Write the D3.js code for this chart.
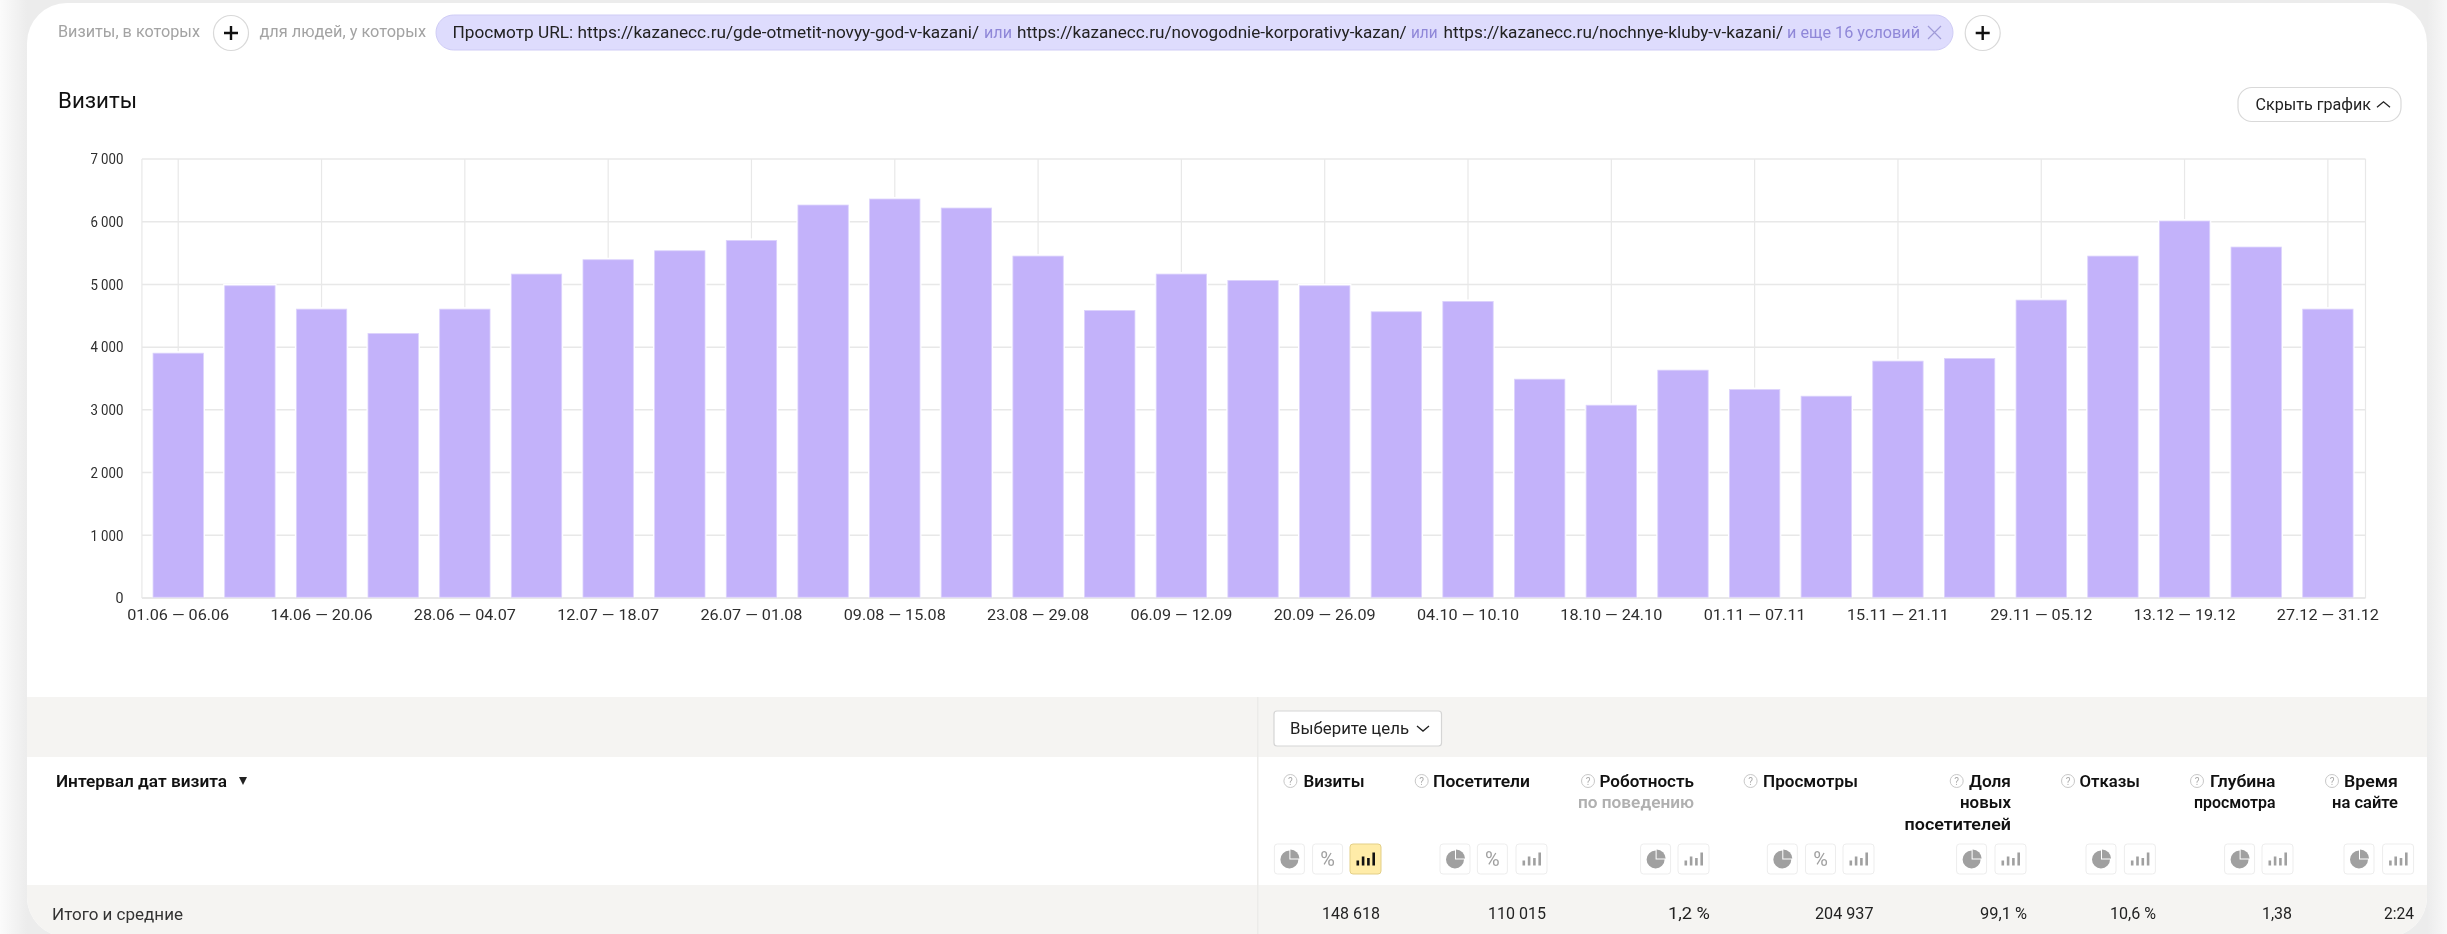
<!DOCTYPE html>
<html lang="ru"><head><meta charset="utf-8">
<script src="https://cdn.jsdelivr.net/npm/d3@7/dist/d3.min.js"></script>
<style>
html,body{margin:0;padding:0;background:#fff;overflow:hidden}
svg{display:block;font-family:Roboto,"Noto Sans",sans-serif;filter:blur(.35px)}
</style></head><body><div id="chart"></div>
<script>
// ---------- data ----------
const categories = ["01.06 — 06.06","07.06 — 13.06","14.06 — 20.06","21.06 — 27.06","28.06 — 04.07","05.07 — 11.07","12.07 — 18.07","19.07 — 25.07","26.07 — 01.08","02.08 — 08.08","09.08 — 15.08","16.08 — 22.08","23.08 — 29.08","30.08 — 05.09","06.09 — 12.09","13.09 — 19.09","20.09 — 26.09","27.09 — 03.10","04.10 — 10.10","11.10 — 17.10","18.10 — 24.10","25.10 — 31.10","01.11 — 07.11","08.11 — 14.11","15.11 — 21.11","22.11 — 28.11","29.11 — 05.12","06.12 — 12.12","13.12 — 19.12","20.12 — 26.12","27.12 — 31.12"];
const visits = [3904,4979,4606,4218,4606,5165,5394,5537,5702,6266,6362,6218,5452,4585,5165,5064,4979,4564,4729,3489,3074,3633,3324,3218,3777,3819,4750,5452,6011,5596,4606];
const yTicks = [0,1000,2000,3000,4000,5000,6000,7000];
const xTicks = categories.filter((d,i)=>i%2===0);
const metricTitles = [["Визиты"],["Посетители"],["Роботность"],["Просмотры"],["Доля","новых","посетителей"],["Отказы"],["Глубина","просмотра"],["Время","на сайте"]];
const totals = ["148 618","110 015","1,2 %","204 937","99,1 %","10,6 %","1,38","2:24"];

// ---------- layout ----------
const W=2447,H=934;
const plot={l:142.4,r:2363.7,t:159,b:598,gridR:2365.5};
const svg=d3.select("#chart").append("svg").attr("width",W).attr("height",H);
const defs=svg.append("defs");
const g0=defs.append("linearGradient").attr("id","side").attr("gradientUnits","userSpaceOnUse").attr("x1",0).attr("x2",W).attr("y1",0).attr("y2",0);
[[0,"#fbfbfb"],[27/W,"#ececec"],[2427/W,"#ececec"],[1,"#f8f8f8"]].forEach(([o,c])=>g0.append("stop").attr("offset",o).attr("stop-color",c));
defs.append("clipPath").attr("id","card").append("rect").attr("x",27).attr("y",3).attr("width",2400).attr("height",934).attr("rx",40);
svg.append("rect").attr("width",W).attr("height",H).attr("fill","url(#side)");
const card=svg.append("g").attr("clip-path","url(#card)");
card.append("rect").attr("x",27).attr("y",3).attr("width",2400).attr("height",934).attr("fill","#fff");
card.append("rect").attr("x",27).attr("y",697).attr("width",2400).attr("height",60).attr("fill","#f5f4f2");
card.append("rect").attr("x",27).attr("y",885).attr("width",2400).attr("height",52).attr("fill","#f5f4f2");
card.append("rect").attr("x",1257).attr("y",697).attr("width",1.5).attr("height",237).attr("fill","#ecebe9");

// text fitted between two x positions
function fit(text,x1,x2,y,o={}){
  return svg.append("text").attr("x",x1).attr("y",y).attr("dy","0.35em")
    .attr("font-size",o.size||16.5).attr("font-weight",o.weight||400).attr("fill",o.fill||"#222")
    .attr("textLength",x2-x1).attr("lengthAdjust","spacingAndGlyphs").text(text);
}
function plusBtn(cx,cy){
  svg.append("circle").attr("cx",cx).attr("cy",cy).attr("r",17.5).attr("fill","#fff").attr("stroke","#d9d9d9").attr("stroke-width",1.2);
  svg.append("path").attr("d",`M${cx-7} ${cy}H${cx+7}M${cx} ${cy-7}V${cy+7}`).attr("stroke","#111").attr("stroke-width",2.4);
}
function chevron(x1,x2,cy,up){
  const h=(x2-x1)/2*.85,s=up?1:-1;
  svg.append("path").attr("d",`M${x1} ${cy+s*h/2}L${(x1+x2)/2} ${cy-s*h/2}L${x2} ${cy+s*h/2}`).attr("fill","none").attr("stroke","#222").attr("stroke-width",1.3);
}

// ---------- top filter row ----------
fit("Визиты, в которых",58,200,31.5,{fill:"#a3a3a3"});
plusBtn(231,33);
fit("для людей, у которых",259.5,426,31.5,{fill:"#a3a3a3"});
svg.append("rect").attr("x",436).attr("y",15).attr("width",1517).attr("height",35).attr("rx",17.5).attr("fill","#dedcfd").attr("stroke","#cfccf5");
const viol="#8f87d8";
fit("Просмотр URL: https://kazanecc.ru/gde-otmetit-novyy-god-v-kazani/",452.5,979,32);
fit("или",984,1012,32,{fill:viol});
fit("https://kazanecc.ru/novogodnie-korporativy-kazan/",1017,1406.7,32);
fit("или",1411,1437.6,32,{fill:viol});
fit("https://kazanecc.ru/nochnye-kluby-v-kazani/",1443.6,1783,32);
fit("и еще 16 условий",1787,1920,32,{fill:viol});
svg.append("path").attr("d","M1928 26L1941 39M1941 26L1928 39").attr("stroke","#a09bd8").attr("stroke-width",1.2);
plusBtn(1982.7,33);

// ---------- chart head ----------
fit("Визиты",58,137,100,{size:22,fill:"#111"});
svg.append("rect").attr("x",2238).attr("y",87.5).attr("width",163).attr("height",34).attr("rx",14).attr("fill","#fff").attr("stroke","#d9d9d9").attr("stroke-width",1.2);
fit("Скрыть график",2255.5,2371,104.5,{size:16});
chevron(2377,2390,104.5,true);

// ---------- chart ----------
const x=d3.scaleBand().domain(categories).range([plot.l,plot.r]).paddingInner(.297).paddingOuter(.1485);
const y=d3.scaleLinear().domain([0,7000]).range([plot.b,plot.t]);
const ruFmt=d3.formatLocale({decimal:",",thousands:" ",grouping:[3],currency:["","₽"]}).format(",d");
const chart=svg.append("g");
const gridCol="#e8e8e8";
chart.selectAll("line.h").data(yTicks).join("line").attr("class","h")
  .attr("x1",plot.l-.5).attr("x2",plot.gridR).attr("y1",d=>y(d)).attr("y2",d=>y(d))
  .attr("stroke",d=>d===0?"#e0e0e0":gridCol).attr("stroke-width",1.5);
chart.selectAll("line.v").data(xTicks).join("line").attr("class","v")
  .attr("x1",d=>x(d)+x.bandwidth()/2).attr("x2",d=>x(d)+x.bandwidth()/2).attr("y1",plot.t).attr("y2",plot.b)
  .attr("stroke",gridCol).attr("stroke-width",1.2);
chart.selectAll("line.e").data([plot.l-.5,plot.gridR]).join("line").attr("class","e")
  .attr("x1",d=>d).attr("x2",d=>d).attr("y1",plot.t).attr("y2",plot.b).attr("stroke",gridCol).attr("stroke-width",1.2);
// white halo, then bar
chart.selectAll("rect.halo").data(visits).join("rect").attr("class","halo")
  .attr("x",(d,i)=>x(categories[i])-1.5).attr("width",x.bandwidth()+3)
  .attr("y",d=>y(d)-2).attr("height",d=>plot.b-y(d)+1.2).attr("fill","#fff");
chart.selectAll("rect.bar").data(visits).join("rect").attr("class","bar")
  .attr("x",(d,i)=>x(categories[i])).attr("width",x.bandwidth())
  .attr("y",d=>y(d)).attr("height",d=>plot.b-y(d)-.8)
  .attr("fill","#c3b2fa").attr("stroke","#dcd3fc").attr("stroke-width",.8);

const ax=chart.append("g").attr("transform",`translate(0,${plot.b})`)
  .call(d3.axisBottom(x).tickValues(xTicks).tickSize(0).tickPadding(11));
const ay=chart.append("g").attr("transform",`translate(${plot.l},0)`)
  .call(d3.axisLeft(y).tickValues(yTicks).tickFormat(ruFmt).tickSize(0).tickPadding(19));
[ax,ay].forEach(a=>{a.select(".domain").remove();
  a.selectAll("text").attr("font-family","Roboto,'Noto Sans',sans-serif").attr("font-size",15).attr("fill","#2e2e2e");});
ax.selectAll("text").attr("textLength",102).attr("lengthAdjust","spacingAndGlyphs");
ay.selectAll("text").attr("textLength",d=>d===0?8:33).attr("lengthAdjust","spacingAndGlyphs");

// ---------- table header ----------
svg.append("rect").attr("x",1274).attr("y",711).attr("width",167.5).attr("height",35).attr("rx",3).attr("fill","#fff").attr("stroke","#d5d5d5").attr("stroke-width",1.2);
fit("Выберите цель",1290,1409,728.5,{size:16.5});
chevron(1417,1429,728.5,false);
fit("Интервал дат визита",56,227,781,{size:16.5,weight:600,fill:"#111"});
svg.append("path").attr("d","M239 777H247L243 785Z").attr("fill","#222");
fit("Итого и средние",52,183,914.5,{size:16.5,fill:"#333"});

// per-column layout: help icon x, title right edge, first-line left, icon buttons, total right
const columns=[
 {help:1290.4,right:1364.5,left:[1303.4],btn:[[1274.4,"pie"],[1312.6,"pct"],[1350,"bar",1]],tl:1322,tr:1380},
 {help:1421.7,right:1530,left:[1433],btn:[[1440,"pie"],[1477.4,"pct"],[1516,"bar"]],tl:1488,tr:1546},
 {help:1588,right:1694,left:[1599.5],btn:[[1640.6,"pie"],[1678,"bar"]],tl:1668,tr:1710},
 {help:1750.6,right:1858,left:[1763],btn:[[1767.3,"pie"],[1805.5,"pct"],[1843,"bar"]],tl:1815,tr:1873.5},
 {help:1956.7,right:2011,left:[1969,1960,1904.6],btn:[[1956.6,"pie"],[1995,"bar"]],tl:1980,tr:2027},
 {help:2068,right:2140,left:[2079.6],btn:[[2086,"pie"],[2124.4,"bar"]],tl:2110,tr:2156},
 {help:2197,right:2275.5,left:[2210,2194],btn:[[2224.6,"pie"],[2262,"bar"]],tl:2262,tr:2292},
 {help:2332,right:2398,left:[2344,2332],btn:[[2344,"pie"],[2382.6,"bar"]],tl:2384,tr:2414}];
const lineY=[781,802,824];
columns.forEach((c,i)=>{
  metricTitles[i].forEach((s,k)=>fit(s,c.left[k],c.right,lineY[k],{size:16.5,weight:600,fill:"#111"}));
  svg.append("circle").attr("cx",c.help).attr("cy",781).attr("r",6.5).attr("fill","#fff").attr("stroke","#c8c8c8");
  svg.append("text").attr("x",c.help).attr("y",781).attr("dy","0.35em").attr("text-anchor","middle").attr("font-size",10).attr("fill","#aaa").text("?");
  c.btn.forEach(b=>iconBtn(b[0],b[1],b[2]));
  fit(totals[i],c.tl,c.tr,913.5,{size:16.5,fill:"#222"});
});
fit("по поведению",1578,1694,802,{size:16.5,weight:600,fill:"#b0b0b0"});

function iconBtn(bx,kind,active){
  const w=kind==="bar"?31:30,by=844,h=30,cx=bx+w/2,cy=by+h/2,col=active?"#111":"#a0a0a0";
  svg.append("rect").attr("x",bx).attr("y",by).attr("width",w).attr("height",h).attr("rx",3)
    .attr("fill",active?"#ffeca8":"#fff").attr("stroke",active?"#e3cf87":"#ededed").attr("stroke-width",1);
  if(kind==="pie"){
    const arc=d3.arc().innerRadius(0).outerRadius(9);
    svg.append("path").attr("transform",`translate(${cx},${cy+.5})`).attr("d",arc({startAngle:Math.PI/2,endAngle:Math.PI*2})).attr("fill",col);
    svg.append("path").attr("transform",`translate(${cx+1},${cy-.5})`).attr("d",arc({startAngle:0,endAngle:Math.PI/2})).attr("fill",col);
  } else if(kind==="pct"){
    svg.append("text").attr("x",cx).attr("y",cy).attr("dy","0.35em").attr("text-anchor","middle").attr("font-size",20).attr("fill",col).text("%");
  } else {
    [5,9,7.5,13].forEach((bh,k)=>svg.append("rect").attr("x",cx-9+k*5.3).attr("y",cy+6.5-bh).attr("width",2.6).attr("height",bh).attr("fill",col));
  }
}
</script></body></html>
